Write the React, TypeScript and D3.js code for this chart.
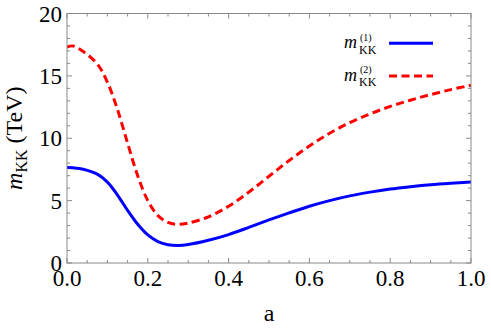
import React from "react";
import * as d3 from "d3";

const aGrid = [0, 0.015, 0.04, 0.075, 0.1, 0.125, 0.15, 0.175, 0.2, 0.225, 0.25, 0.275, 0.3, 0.35, 0.4, 0.45, 0.5, 0.55, 0.6, 0.65, 0.7, 0.75, 0.8, 0.85, 0.9, 0.95, 1.0];
const mkk1 = [7.65, 7.63, 7.52, 7.12, 6.48, 5.45, 4.22, 3.1, 2.25, 1.72, 1.47, 1.41, 1.48, 1.82, 2.28, 2.85, 3.45, 4.02, 4.55, 5.0, 5.38, 5.68, 5.93, 6.12, 6.28, 6.4, 6.5];
const mkk2 = [17.3, 17.4, 16.95, 15.95, 14.5, 12.3, 9.6, 7.0, 5.0, 3.8, 3.25, 3.1, 3.2, 3.7, 4.55, 5.68, 6.95, 8.22, 9.38, 10.4, 11.25, 11.95, 12.55, 13.05, 13.5, 13.9, 14.25];
const xTicks = [0, 0.2, 0.4, 0.6, 0.8, 1.0];
const yTicks = [0, 5, 10, 15, 20];

const W = 491, H = 331;
const L = 67, R = 471, T = 13.5, B = 263;
const FONT = "'Liberation Serif', 'Times New Roman', Times, 'DejaVu Serif', serif";
const FRAME = "#8a8a8a";
const tx = { fontFamily: FONT };

export default function App() {
  const x = d3.scaleLinear().domain([0, 1]).range([L, R]);
  const y = d3.scaleLinear().domain([0, 20]).range([B, T]);
  const line = d3.line<number>().x((_, i) => x(aGrid[i])).y(d => y(d)).curve(d3.curveCatmullRom.alpha(0.5));
  const xMinor = d3.range(0, 1.0001, 0.05);
  const yMinor = d3.range(0, 20.001, 1);
  return (
    <svg width={W} height={H} style={{ position: "absolute", left: 0, top: 0 }}>
      <rect x={0} y={0} width={W} height={H} fill="white" />
      <defs>
        <clipPath id="plot"><rect x={L} y={T} width={R - L} height={B - T} /></clipPath>
      </defs>
      <g clipPath="url(#plot)">
        <path d={line(mkk2) || ""} fill="none" stroke="#ff0000" strokeWidth={3} strokeDasharray="8,4.5" />
        <path d={line(mkk1) || ""} fill="none" stroke="#0000ff" strokeWidth={3} />
      </g>
      <rect x={L} y={T} width={R - L} height={B - T} fill="none" stroke={FRAME} strokeWidth={1} />
      {xMinor.map((v, i) => {
        const major = i % 4 === 0;
        const len = major ? 5 : 3;
        return (
          <g key={"xm" + i}>
            <line x1={x(v)} x2={x(v)} y1={B} y2={B - len} stroke={FRAME} />
            <line x1={x(v)} x2={x(v)} y1={T} y2={T + len} stroke={FRAME} />
          </g>
        );
      })}
      {yMinor.map((v, i) => {
        const major = i % 5 === 0;
        const len = major ? 5 : 3;
        return (
          <g key={"ym" + i}>
            <line x1={L} x2={L + len} y1={y(v)} y2={y(v)} stroke={FRAME} />
            <line x1={R} x2={R - len} y1={y(v)} y2={y(v)} stroke={FRAME} />
          </g>
        );
      })}
      {xTicks.map(v => (
        <text key={"xt" + v} style={tx} x={x(v)} y={286} fontSize={23} textAnchor="middle" fill="#000">{v.toFixed(1)}</text>
      ))}
      {yTicks.map(v => (
        <text key={"yt" + v} style={tx} x={62} y={y(v) + 8} fontSize={23} textAnchor="end" fill="#000">{v}</text>
      ))}
      <text style={tx} x={(L + R) / 2} y={321} fontSize={24} textAnchor="middle">a</text>
      <text style={tx} transform={`translate(22,${(T + B) / 2}) rotate(-90)`} fontSize={24} textAnchor="middle">
        <tspan fontStyle="italic">m</tspan>
        <tspan fontSize={16} dy={5}>KK</tspan>
        <tspan dy={-5}> (TeV)</tspan>
      </text>
      {[{ lab: "(1)", y0: 43.3, dash: undefined, col: "#0000ff" }, { lab: "(2)", y0: 76, dash: "8,4.5", col: "#ff0000" }].map((d, i) => (
        <g key={"lg" + i}>
          <text style={tx} x={344} y={d.y0 + 4.5} fontSize={18} fontStyle="italic">m</text>
          <text style={tx} x={359} y={d.y0 + 10.3} fontSize={12}>KK</text>
          <text style={tx} x={360} y={d.y0 - 2.8} fontSize={10}>{d.lab}</text>
          <line x1={389} x2={433} y1={d.y0} y2={d.y0} stroke={d.col} strokeWidth={3} strokeDasharray={d.dash} />
        </g>
      ))}
    </svg>
  );
}
